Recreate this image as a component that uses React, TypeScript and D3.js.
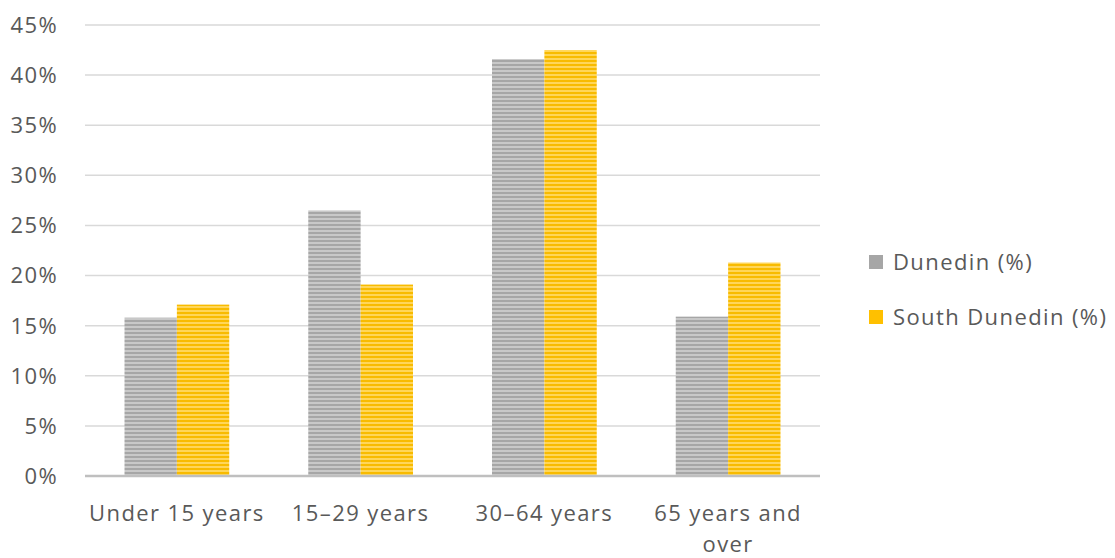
import React from "react";
import * as d3 from "d3";

const categories = ["Under 15 years", "15–29 years", "30–64 years", "65 years and over"];
const dunedin = [15.8, 26.5, 41.6, 15.9];
const southDunedin = [17.1, 19.1, 42.5, 21.3];
const yTicks = [0, 5, 10, 15, 20, 25, 30, 35, 40, 45];
const seriesNames = ["Dunedin (%)", "South Dunedin (%)"];

const W = 1115;
const H = 558;
const left = 85;
const right = 820;
const top = 25;
const bottom = 476;
const FONT = "'Open Sans', sans-serif";
const TEXT = "#595959";
const FS = 22;
const LS = 1.4;

export default function App() {
  const x = d3.scaleBand<string>().domain(categories).range([left, right]);
  const y = d3.scaleLinear().domain([0, 45]).range([bottom, top]);
  const barW = x.bandwidth() * 0.285;

  const series = [
    { name: seriesNames[0], values: dunedin, fill: "url(#stripeGray)", swatch: "#a6a6a6", offset: -1 },
    { name: seriesNames[1], values: southDunedin, fill: "url(#stripeGold)", swatch: "#ffc000", offset: 0 },
  ];

  const wrapLabel = (s: string) => (s === "65 years and over" ? ["65 years and", "over"] : [s]);

  return (
    <svg width={W} height={H} style={{ position: "absolute", left: 0, top: 0, background: "#fff" }}>
      <defs>
        <pattern id="stripeGray" width="6" height="4" patternUnits="userSpaceOnUse">
          <rect width="6" height="4" fill="#c8c8c8" />
          <rect width="6" height="2" fill="#a6a6a6" />
        </pattern>
        <pattern id="stripeGold" width="6" height="4" patternUnits="userSpaceOnUse">
          <rect width="6" height="4" fill="#ffd659" />
          <rect width="6" height="2" fill="#f8bb00" />
        </pattern>
      </defs>
      <rect width={W} height={H} fill="#fff" />
      {yTicks.map((t) => (
        <g key={t}>
          {t > 0 && <line x1={left} x2={right} y1={y(t)} y2={y(t)} stroke="#d9d9d9" strokeWidth={1.5} />}
          <text x={58} y={y(t)} dy="0.36em" textAnchor="end" fontFamily={FONT} fontSize={FS} letterSpacing={LS} fill={TEXT}>
            {t}%
          </text>
        </g>
      ))}
      {series.map((s) =>
        s.values.map((v, i) => {
          const cx = (x(categories[i]) as number) + x.bandwidth() / 2;
          return (
            <rect
              key={s.name + i}
              x={cx + s.offset * barW}
              y={y(v)}
              width={barW}
              height={y(0) - y(v)}
              fill={s.fill}
            />
          );
        })
      )}
      <line x1={left} x2={right} y1={y(0)} y2={y(0)} stroke="#bfbfbf" strokeWidth={2.5} />
      {categories.map((c) => {
        const cx = (x(c) as number) + x.bandwidth() / 2;
        return wrapLabel(c).map((line, j) => (
          <text
            key={c + j}
            x={cx}
            y={521 + j * 31}
            textAnchor="middle"
            fontFamily={FONT}
            fontSize={FS}
            letterSpacing={LS}
            fill={TEXT}
          >
            {line}
          </text>
        ));
      })}
      {series.map((s, i) => (
        <g key={s.name} transform={`translate(869, ${262 + i * 55})`}>
          <rect x={0} y={-7} width={14} height={14} fill={s.swatch} />
          <text x={24} y={0} dy="0.36em" fontFamily={FONT} fontSize={FS} letterSpacing={LS} fill={TEXT}>
            {s.name}
          </text>
        </g>
      ))}
    </svg>
  );
}
